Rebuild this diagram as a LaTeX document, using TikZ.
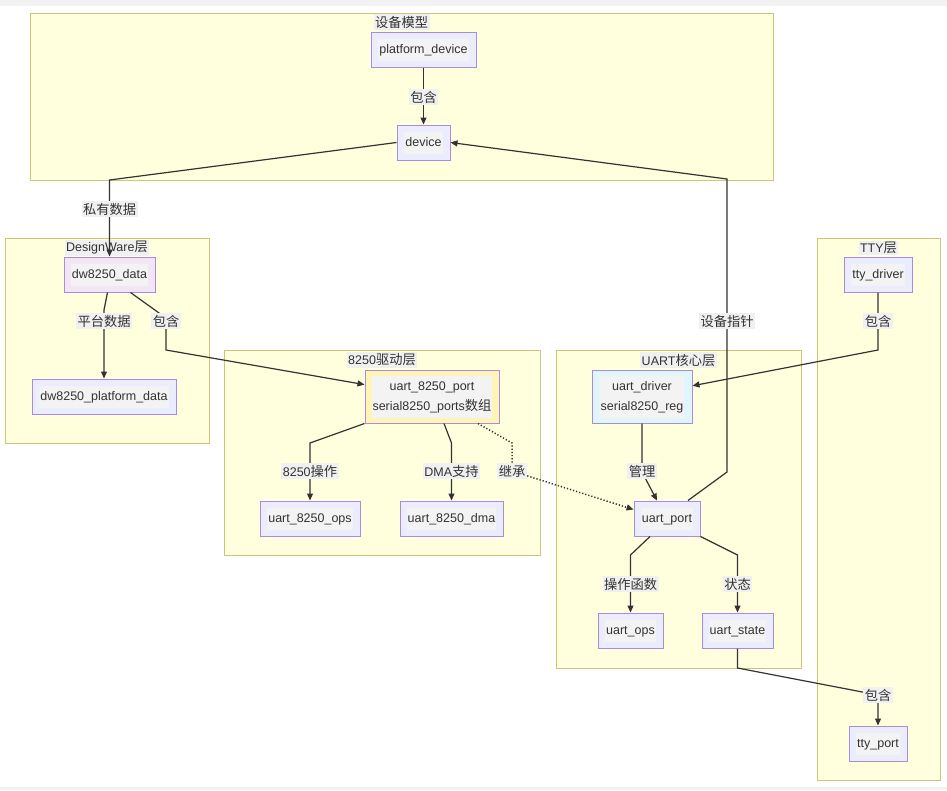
\documentclass[tikz,border=0pt]{standalone}
\usepackage{fontspec}
\setmainfont{Liberation Sans}
\newfontfamily\cjk[Scale=1.06]{Noto Sans CJK SC}
\usetikzlibrary{arrows.meta,calc}
\definecolor{txt}{HTML}{333333}
\definecolor{barc}{HTML}{F2F2F2}
\definecolor{clfill}{HTML}{FFFFDE}
\definecolor{cldraw}{HTML}{C8C878}
\definecolor{nfill}{HTML}{ECECFF}
\definecolor{ndraw}{HTML}{A98BE0}
\definecolor{pinkf}{HTML}{F3E5F5}
\definecolor{yelf}{HTML}{FFF4B8}
\definecolor{bluef}{HTML}{E1F5FE}
\definecolor{tbg}{HTML}{F3F3F3}
\definecolor{lblbg}{HTML}{F0F0F0}
\setlength{\fboxsep}{1pt}
\newcommand\tb[1]{\colorbox{tbg}{\begin{tabular}{@{}c@{}}#1\end{tabular}}}
\tikzset{
  cluster/.style={fill=clfill,draw=cldraw,line width=1pt},
  ctitle/.style={fill=lblbg,inner sep=1.5pt,text=txt},
  box/.style={draw=ndraw,fill=nfill,line width=1pt,minimum height=35pt,inner sep=2pt,text=txt},
  elabel/.style={fill=lblbg,inner sep=1.5pt,text=txt},
  arr/.style={draw=txt,line width=1.2pt,-{Triangle[length=7pt,width=6pt]}},
  darr/.style={arr,dotted,line width=1.5pt}
}
\begin{document}
\begin{tikzpicture}[x=1pt,y=-1pt,font=\fontsize{12.5}{20}\selectfont]
\useasboundingbox (0,0) rectangle (947,790);
\fill[white] (0,0) rectangle (947,790);
\fill[barc] (0,0) rectangle (947,6);
\fill[barc] (0,787) rectangle (947,790);

% clusters
\draw[cluster] (30,13) rectangle (773,180);
\draw[cluster] (5,238) rectangle (209,443);
\draw[cluster] (224,350) rectangle (540,555);
\draw[cluster] (556,350) rectangle (801,668);
\draw[cluster] (817,238) rectangle (940,780);
\node[ctitle] (t1) at (401.5,22) {{\cjk 设备模型}};
\node[ctitle] (t2) at (107,248) {DesignWare{\cjk 层}};
\node[ctitle] (t3) at (382,360) {8250{\cjk 驱动层}};
\node[ctitle] (t4) at (678.5,360) {UART{\cjk 核心层}};
\node[ctitle] (t5) at (878.5,248) {TTY{\cjk 层}};

% nodes
\node[box,minimum width=105pt] (pd) at (423.5,49.5) {\tb{platform\_device}};
\node[box,minimum width=53pt] (dev) at (423.5,142.5) {\tb{device}};
\node[box,minimum width=91pt,fill=pinkf] (dwd) at (109.5,274.5) {\tb{dw8250\_data}};
\node[box,minimum width=144pt] (dpd) at (104,396.5) {\tb{dw8250\_platform\_data}};
\node[box,minimum width=134pt,minimum height=53pt,fill=yelf] (u8p) at (432,396.5) {\tb{uart\_8250\_port\\serial8250\_ports{\cjk 数组}}};
\node[box,minimum width=100pt] (u8o) at (310,518.5) {\tb{uart\_8250\_ops}};
\node[box,minimum width=103pt] (dma) at (451.5,518.5) {\tb{uart\_8250\_dma}};
\node[box,minimum width=100pt,minimum height=53pt,fill=bluef] (ud) at (642,396.5) {\tb{uart\_driver\\serial8250\_reg}};
\node[box,minimum width=66pt] (up) at (667,518.5) {\tb{uart\_port}};
\node[box,minimum width=65pt] (uo) at (630.5,630.5) {\tb{uart\_ops}};
\node[box,minimum width=71pt] (us) at (737.5,630.5) {\tb{uart\_state}};
\node[box,minimum width=68pt] (td) at (878,274.5) {\tb{tty\_driver}};
\node[box,minimum width=58pt] (tp) at (878,743.5) {\tb{tty\_port}};

% edges
\draw[arr] (pd) -- (dev);
\draw[arr] (dev.west) -- (109.5,180) -- (dwd.north);
\draw[arr] ($(up.north)+(21,0)$) -- (727,472) -- (727,179) -- (dev.east);
\draw[arr] ($(dwd.south)+(-2,0)$) -- (104,310) -- (dpd.north);
\draw[arr] ($(dwd.south)+(21,0)$) -- (166,318) -- (166,350) -- (u8p.170);
\draw[arr] (u8p.south west) -- (310,443) -- (u8o.north);
\draw[arr] ($(u8p.south)+(12,0)$) -- (451.5,443) -- (dma.north);
\draw[darr] ($(u8p.south)+(46,0)$) -- (512,443) -- (512,471) -- (up.165);
\draw[arr] (ud.south) -- (642,472) -- ($(up.north)+(-10,0)$);
\draw[arr] ($(up.south)+(-17,0)$) -- (630.5,555) -- (uo.north);
\draw[arr] (up.south east) -- (737.5,555) -- (us.north);
\draw[arr] (td.south) -- (878,350) -- (ud.12);
\draw[arr] (us.south) -- (737.5,668) -- (878,695) -- (tp.north);

% edge labels
\node[elabel] (l1) at (423.5,97) {{\cjk 包含}};
\node[elabel] (l2) at (109.5,209) {{\cjk 私有数据}};
\node[elabel] (l3) at (727,321) {{\cjk 设备指针}};
\node[elabel] (l4) at (104,321) {{\cjk 平台数据}};
\node[elabel] (l5) at (166,321) {{\cjk 包含}};
\node[elabel] (l6) at (310,471) {8250{\cjk 操作}};
\node[elabel] (l7) at (451.5,471) {DMA{\cjk 支持}};
\node[elabel] (l8) at (512,471) {{\cjk 继承}};
\node[elabel] (l9) at (642,471) {{\cjk 管理}};
\node[elabel] (l10) at (630.5,584) {{\cjk 操作函数}};
\node[elabel] (l11) at (737.5,584) {{\cjk 状态}};
\node[elabel] (l12) at (878,321) {{\cjk 包含}};
\node[elabel] (l13) at (878,695) {{\cjk 包含}};
\end{tikzpicture}
\end{document}
